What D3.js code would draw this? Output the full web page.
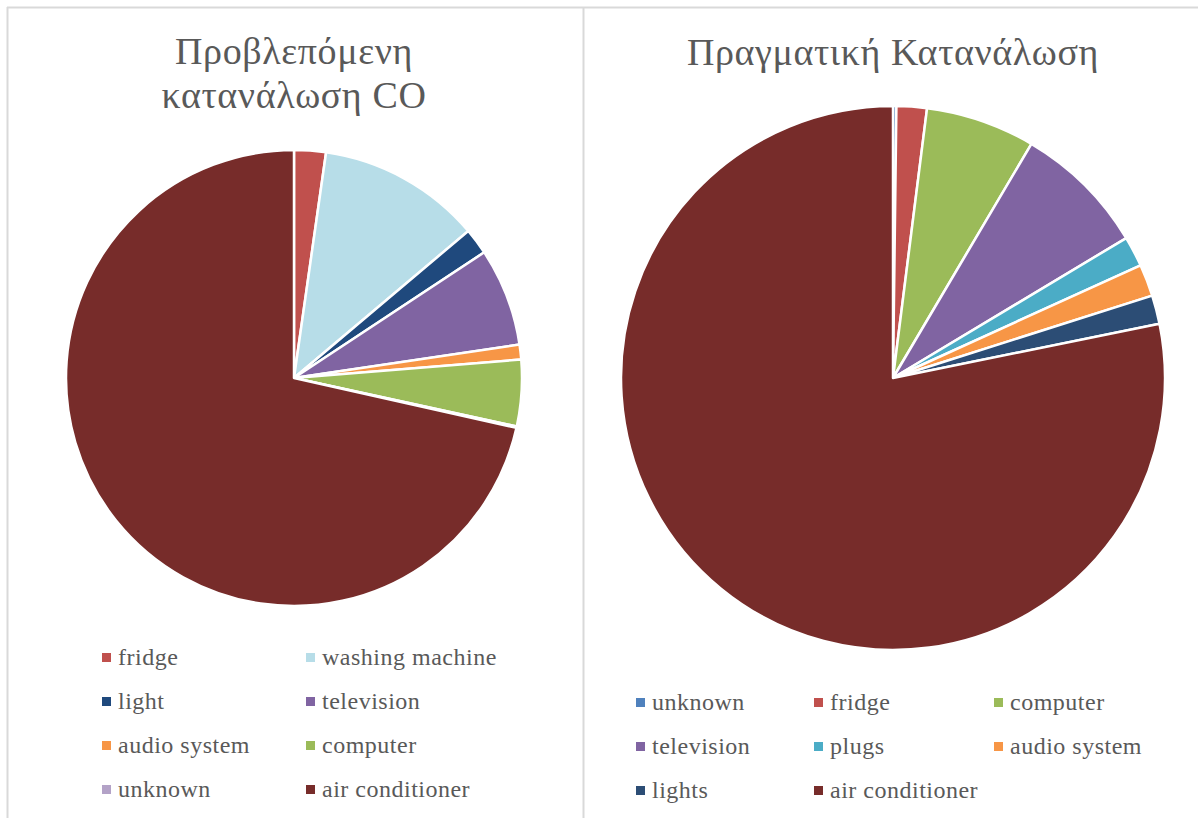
<!DOCTYPE html>
<html lang="el">
<head>
    <meta charset="UTF-8">
    <title>Κατανάλωση</title>
    <script src="https://cdn.jsdelivr.net/npm/d3@7"></script>
    <style>
        body { margin: 0; background: #fff; }
        svg { display: block; }
        text { font-family: 'Liberation Serif', 'DejaVu Serif', serif; fill: #595959; }
    </style>
</head>
<body>
<script>
    // predicted consumption (left)
    const predLabels = ["fridge", "washing machine", "light", "television", "audio system", "computer", "unknown", "air conditioner"];
    const predValues = [2.25, 11.6, 1.86, 6.95, 1.05, 4.7, 0.1, 71.5];
    const predColors = ["#c0504d", "#b7dde8", "#1f497d", "#8064a2", "#f79646", "#9bbb59", "#b3a2c7", "#772c2a"];

    // actual consumption (right)
    const realLabels = ["unknown", "fridge", "computer", "television", "plugs", "audio system", "lights", "air conditioner"];
    const realValues = [0.2, 1.8, 6.5, 7.9, 1.8, 1.9, 1.7, 78.2];
    const realColors = ["#4f81bd", "#c0504d", "#9bbb59", "#8064a2", "#4bacc6", "#f79646", "#2c4d75", "#772c2a"];

    const W = 1198, H = 818;
    const svg = d3.select("body").append("svg").attr("width", W).attr("height", H);
    svg.append("rect").attr("width", W).attr("height", H).attr("fill", "#fff");

    // chart frames
    const frame = svg.append("g").attr("stroke", "#d9d9d9").attr("stroke-width", 2);
    frame.append("line").attr("x1", 7).attr("x2", W).attr("y1", 7.5).attr("y2", 7.5);
    frame.append("line").attr("x1", 7.5).attr("x2", 7.5).attr("y1", 7).attr("y2", H);
    frame.append("line").attr("x1", 583.5).attr("x2", 583.5).attr("y1", 7).attr("y2", H);

    function drawPie(opt) {
        const g = svg.append("g");

        opt.title.forEach((t, i) => {
            g.append("text")
                .attr("x", opt.cx).attr("y", opt.titleY + i * 44)
                .attr("text-anchor", "middle")
                .style("font-size", "38px")
                .style("letter-spacing", "0.6px")
                .text(t);
        });

        const pie = d3.pie().sort(null).value(d => d.v);
        const arc = d3.arc().innerRadius(0).outerRadius(opt.r);
        const data = opt.labels.map((l, i) => ({ l, v: opt.values[i], c: opt.colors[i] }));

        g.append("g")
            .attr("transform", `translate(${opt.cx},${opt.cy})`)
            .selectAll("path")
            .data(pie(data))
            .join("path")
            .attr("d", arc)
            .attr("fill", d => d.data.c)
            .attr("stroke", "#fff")
            .attr("stroke-width", 2.5)
            .attr("stroke-linejoin", "round");

        const lg = g.append("g").selectAll("g")
            .data(data)
            .join("g")
            .attr("transform", (d, i) => `translate(${opt.legX[i % opt.cols]},${opt.legY + Math.floor(i / opt.cols) * 44})`);
        lg.append("rect")
            .attr("x", 0).attr("y", -5).attr("width", 9).attr("height", 9)
            .attr("fill", d => d.c);
        lg.append("text")
            .attr("x", 16).attr("y", 7)
            .style("font-size", "24px")
            .style("letter-spacing", "0.5px")
            .text(d => d.l);
    }

    drawPie({
        title: ["Προβλεπόμενη", "κατανάλωση CO"], titleY: 64,
        cx: 294, cy: 378, r: 228,
        labels: predLabels, values: predValues, colors: predColors,
        cols: 2, legX: [102, 306], legY: 658
    });

    drawPie({
        title: ["Πραγματική Κατανάλωση"], titleY: 65,
        cx: 893, cy: 378, r: 272,
        labels: realLabels, values: realValues, colors: realColors,
        cols: 3, legX: [636, 814, 994], legY: 703
    });
</script>
</body>
</html>
